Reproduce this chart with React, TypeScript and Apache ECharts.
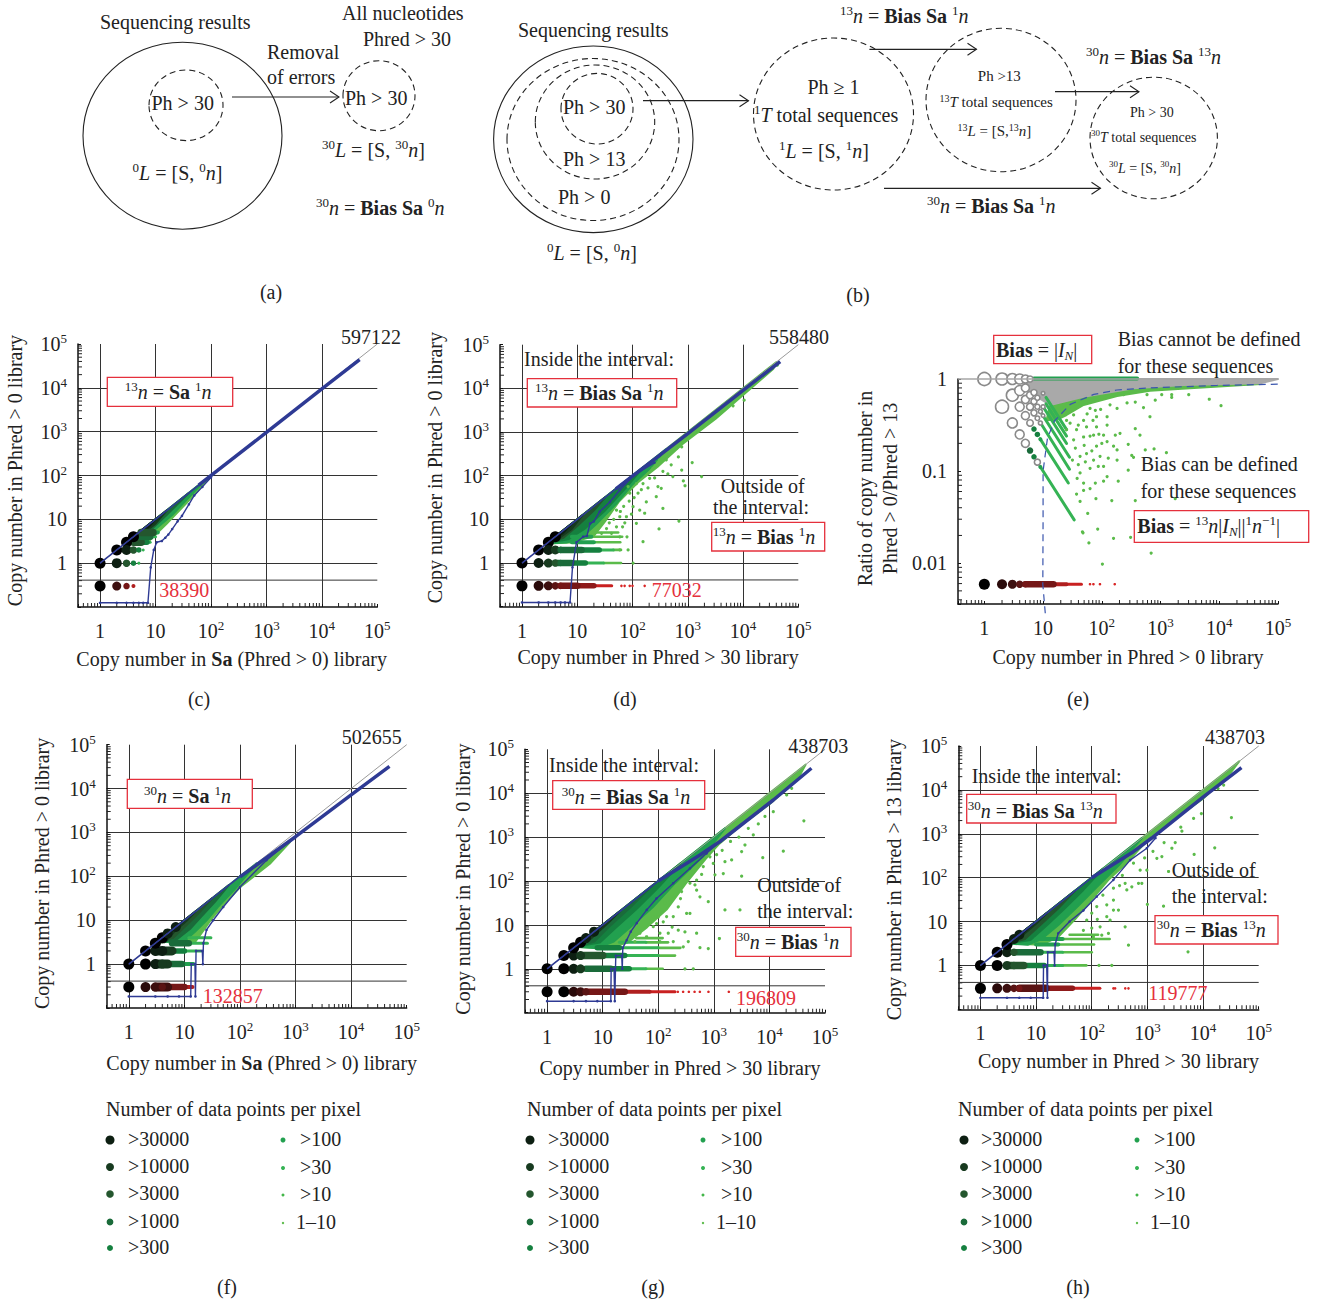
import React, { useEffect, useRef } from "react";
import * as echarts from "echarts";

const F = '"Liberation Serif", serif';
const INK = "#222";
const RED_TXT = "#e5303c";
const BLUE = "#2e3a94";
const GREEN = ["#000000", "#0d1f12", "#173a1f", "#24562e", "#1a6b3a", "#15803f", "#22a04f", "#35b354", "#5bbb4a"];
const RED = ["#0a0505", "#2a0a0a", "#3d0f0f", "#5a1414", "#751717", "#8f1a1a", "#b01f1f", "#c92020", "#d92626"];
const SIZE = [11, 10, 9, 7.5, 6.5, 5.5, 4, 3, 2.6];
const LEGEND_LEFT = [">30000", ">10000", ">3000", ">1000", ">300"];
const LEGEND_RIGHT = [">100", ">30", ">10", "1–10"];
const LEGEND_SWATCH = ["#0d1f12", "#173a1f", "#24562e", "#1a6b3a", "#15803f", "#22a04f", "#35b354", "#43b649", "#5bbb4a"];
const LEGEND_R = [4.5, 4, 3.8, 3.4, 3, 2.5, 2, 1.5, 1.2];
const MINOR = [2, 3, 4, 5, 6, 7, 8, 9];

// wedge outlines: [density class, [log10 x, log10 y] ...]
const c_wedges: any[] = [
  [8, [[0.48, 0.48], [2.05, 2.05], [1.55, 1.36], [1.2, 0.9], [0.9, 0.53], [0.6, 0.47]]],
  [6, [[0.48, 0.48], [1.9, 1.9], [1.3, 1.1], [1, 0.78], [0.75, 0.6], [0.55, 0.47]]],
  [4, [[0.48, 0.48], [1.6, 1.6], [1.2, 1.1], [0.95, 0.8], [0.7, 0.58]]],
  [2, [[0.48, 0.48], [1.2, 1.2], [1, 0.9], [0.8, 0.7], [0.6, 0.52]]],
  [1, [[0.48, 0.48], [1, 1], [0.8, 0.72], [0.6, 0.52]]],
];
const d_wedges: any[] = [
  [8, [[0.45, 0.45], [4.6, 4.6], [4.55, 4.45], [3.5, 3.3], [2.9, 2.72], [2.45, 2.2], [2.1, 1.85], [1.75, 1.4], [1.5, 0.95], [1.3, 0.62], [0.9, 0.47]]],
  [6, [[0.45, 0.45], [2.6, 2.6], [2.3, 2.15], [2, 1.8], [1.7, 1.35], [1.35, 0.9], [1.05, 0.55], [0.8, 0.47]]],
  [5, [[0.45, 0.45], [2.2, 2.2], [1.9, 1.75], [1.5, 1.2], [1.15, 0.8], [0.85, 0.55]]],
  [3, [[0.45, 0.45], [1.5, 1.5], [1.3, 1.2], [1, 0.85], [0.75, 0.58]]],
  [2, [[0.45, 0.45], [1.1, 1.1], [0.9, 0.78], [0.65, 0.55]]],
  [1, [[0.45, 0.45], [0.9, 0.9], [0.75, 0.7], [0.55, 0.5]]],
];
const f_wedges: any[] = [
  [8, [[0.5, 0.5], [2.4, 2.35], [2.9, 2.8], [2.9, 2.78], [2.55, 2.3], [2, 1.75], [1.7, 1.35], [1.5, 1.05], [1.35, 0.78], [1.2, 0.52]]],
  [6, [[0.5, 0.5], [2.3, 2.3], [1.9, 1.7], [1.6, 1.3], [1.4, 1], [1.2, 0.75], [1, 0.52]]],
  [4, [[0.5, 0.5], [1.8, 1.8], [1.55, 1.42], [1.3, 1.08], [1.1, 0.8], [0.85, 0.55]]],
  [3, [[0.5, 0.5], [1.5, 1.5], [1.25, 1.15], [1.05, 0.9], [0.8, 0.6]]],
  [2, [[0.5, 0.5], [1.2, 1.2], [1.05, 1], [0.85, 0.78], [0.65, 0.5]]],
  [1, [[0.5, 0.5], [1, 1], [0.85, 0.85], [0.65, 0.6]]],
];
const g_wedges: any[] = [
  [8, [[0.5, 0.5], [4.65, 4.65], [4.5, 4.3], [4, 3.75], [3.5, 3.28], [3.1, 2.85], [2.85, 2.5], [2.5, 1.95], [2.15, 1.35], [1.8, 0.95], [1.45, 0.6], [1.1, 0.47]]],
  [6, [[0.5, 0.5], [3.2, 3.2], [2.8, 2.55], [2.3, 1.95], [1.9, 1.4], [1.5, 0.95], [1.2, 0.62], [0.9, 0.47]]],
  [5, [[0.5, 0.5], [2.4, 2.4], [2, 1.85], [1.6, 1.35], [1.25, 0.95], [0.95, 0.6]]],
  [4, [[0.5, 0.5], [1.9, 1.9], [1.5, 1.4], [1.15, 1], [0.85, 0.62]]],
  [2, [[0.5, 0.5], [1.3, 1.3], [1.1, 1.05], [0.8, 0.7], [0.65, 0.55]]],
  [1, [[0.5, 0.5], [1, 1], [0.8, 0.78], [0.6, 0.52]]],
];
const h_wedges: any[] = [
  [8, [[0.5, 0.5], [4.65, 4.65], [4.5, 4.4], [4, 3.8], [3.5, 3.35], [3, 2.85], [2.6, 2.3], [2.3, 1.95], [2, 1.5], [1.7, 1.05], [1.4, 0.65], [1.1, 0.47]]],
  [6, [[0.5, 0.5], [2.9, 2.9], [2.5, 2.3], [2.1, 1.8], [1.75, 1.35], [1.4, 0.92], [1.1, 0.6], [0.85, 0.47]]],
  [5, [[0.5, 0.5], [2.2, 2.2], [1.85, 1.72], [1.5, 1.28], [1.2, 0.92], [0.9, 0.58]]],
  [3, [[0.5, 0.5], [1.7, 1.7], [1.4, 1.3], [1.1, 0.95], [0.8, 0.6]]],
  [2, [[0.5, 0.5], [1.2, 1.2], [1, 0.95], [0.75, 0.68], [0.6, 0.52]]],
  [1, [[0.5, 0.5], [0.95, 0.95], [0.75, 0.72], [0.55, 0.5]]],
];
const e_wedges: any[] = [
  [8, [[1.12, -0.282], [1.69, -0.192], [2.54, -0.101], [3.39, -0.065], [4.7, -0.029], [4.7, -0.054], [3.5, -0.101], [2.82, -0.127], [2.26, -0.185], [1.69, -0.282], [1.4, -0.391], [1.23, -0.445], [1.06, -0.445]]],
  [99, [[0.72, 0], [5, 0], [4.7, -0.047], [3.39, -0.065], [2.54, -0.101], [1.69, -0.192], [1.12, -0.282], [0.89, -0.192], [0.66, -0.083]]],
];

// rows: [y, x from, x to, class] (class + 10 = red palette)
const c_rows: number[][] = [[3, 4, 8, 7], [3, 4, 7, 5], [3, 4, 5.5, 3], [4, 5, 10, 7], [4, 5, 8, 4], [5, 5.5, 11, 6], [5, 5.5, 9, 3]];
const d_rows: number[][] = [
  [1, 30, 62, 8], [1, 14, 30, 7], [1, 8, 14, 5], [1, 4, 8, 4],
  [2, 45, 62, 8], [2, 25, 45, 7], [2, 12, 25, 5], [2, 5, 12, 4],
  [3, 20, 60, 8], [3, 8, 20, 6], [4, 18, 65, 8], [4, 8, 18, 6], [5, 20, 55, 8],
  [0.3, 20, 42, 17], [0.3, 10, 20, 15], [0.3, 5, 10, 14],
];
const f_rows: number[][] = [
  [1, 9, 14.5, 6], [1, 5, 9, 4], [1, 3, 5, 2],
  [2, 10, 20, 7], [2, 6, 10, 5], [2, 3, 6, 2],
  [3, 12, 26, 7], [3, 6, 12, 4], [4, 12, 30, 7],
  [0.3, 10, 14, 16], [0.3, 5, 10, 14], [0.3, 3, 5, 12],
];
const g_rows: number[][] = [
  [1, 60, 120, 8], [1, 30, 60, 7], [1, 14, 30, 5], [1, 5, 14, 4],
  [2, 100, 200, 8], [2, 25, 100, 7], [2, 10, 25, 5], [2, 4, 10, 3],
  [3, 100, 250, 8], [3, 20, 100, 7], [3, 8, 20, 5],
  [4, 60, 150, 8], [4, 20, 60, 7], [5, 40, 120, 8],
  [0.3, 70, 200, 17], [0.3, 25, 70, 16], [0.3, 5, 25, 14],
];
const h_rows: number[][] = [
  [1, 30, 80, 8], [1, 14, 30, 7], [1, 6, 14, 5], [1, 3, 6, 3],
  [2, 30, 100, 8], [2, 12, 30, 7], [2, 4, 12, 4],
  [3, 25, 110, 8], [3, 10, 25, 6], [4, 30, 210, 8], [4, 10, 30, 6], [5, 40, 130, 8],
  [0.3, 45, 140, 17], [0.3, 15, 45, 15], [0.3, 5, 15, 13],
];
const e_rows: number[][] = [
  [1.015, 7, 400, 6],
  [0.0059, 25, 45, 17], [0.0059, 15, 25, 16], [0.0059, 5, 15, 14],
];
// rays in panel e: [log x0, log y0, log x1, log y1]
const e_rays: number[][] = [
  [0.95, -0.95, 1.53, -1.53], [0.95, -0.65, 1.43, -1.13], [0.98, -0.5, 1.45, -0.98],
  [0.98, -0.38, 1.45, -0.85], [1, -0.3, 1.4, -0.7], [1.05, -0.27, 1.4, -0.62], [1.05, -0.2, 1.4, -0.55],
];

// single large dots: [x, y, class]
const c_dots: number[][] = [
  [1, 1, 0], [2, 2, 0], [3, 3, 0], [4, 4, 0], [2, 1, 1], [3, 1, 3], [4, 1, 5], [5, 1, 7],
  [3, 2, 1], [4, 2, 3], [5, 2, 5], [6, 2, 7], [1, 0.3, 0], [2, 0.3, 12], [3, 0.3, 14], [4, 0.3, 16],
];
const d_dots: number[][] = [
  [1, 1, 0], [2, 2, 0], [3, 3, 0], [4, 4, 0], [2, 1, 1], [3, 1, 2], [4, 1, 3], [5, 1, 4],
  [3, 2, 1], [4, 2, 2], [5, 2, 4], [1, 0.3, 0], [2, 0.3, 11], [3, 0.3, 12], [4, 0.3, 13], [5, 0.3, 14],
  [63, 0.3, 18], [72, 0.3, 18], [89, 0.3, 18], [100, 0.3, 18], [166, 0.3, 18],
];
const f_dots: number[][] = [
  [1, 1, 0], [2, 1, 0], [3, 1, 1], [4, 1, 2], [2, 2, 0], [3, 2, 1], [4, 2, 1], [3, 3, 0], [4, 4, 0], [5, 5, 1], [7, 7, 1],
  [1, 0.3, 0], [2, 0.3, 11], [3, 0.3, 12], [4, 0.3, 13],
];
const g_dots: number[][] = [
  [1, 1, 0], [2, 1, 0], [3, 1, 1], [4, 1, 2], [2, 2, 0], [3, 2, 1], [4, 2, 2], [3, 3, 0], [4, 4, 0], [5, 5, 1], [7, 7, 1],
  [1, 0.3, 0], [2, 0.3, 0], [3, 0.3, 11], [4, 0.3, 12], [5, 0.3, 13],
  [225, 0.3, 18], [280, 0.3, 18], [355, 0.3, 18], [450, 0.3, 18], [560, 0.3, 18], [800, 0.3, 18], [1860, 0.3, 18],
];
const h_dots: number[][] = [
  [1, 1, 0], [2, 1, 0], [3, 1, 2], [4, 1, 3], [2, 2, 0], [3, 2, 1], [4, 2, 3], [3, 3, 0], [4, 4, 1], [5, 5, 1],
  [1, 0.3, 0], [2, 0.3, 11], [3, 0.3, 12], [4, 0.3, 13], [5, 0.3, 14],
  [245, 0.3, 18], [263, 0.3, 18], [400, 0.3, 18], [457, 0.3, 18],
];
const e_dots: number[][] = [
  [1, 0.0059, 0], [2, 0.0059, 11], [3, 0.0059, 12], [4, 0.0059, 13], [5, 0.0059, 14],
  [63, 0.0059, 18], [72, 0.0059, 18], [93, 0.0059, 18], [166, 0.0059, 18],
  [6, 0.167, 4], [7, 0.143, 5], [7, 0.286, 5], [8, 0.25, 5], [9, 0.222, 6], [9, 0.111, 6],
];
// white rings in panel e: [x, y, size]
const e_rings: number[][] = [
  [1, 1, 13], [2, 1, 12], [3, 1, 11], [4, 1, 10], [5, 1, 8], [6, 1, 6], [3, 0.667, 12], [2, 0.5, 13], [4, 0.75, 10], [5, 0.8, 8],
  [4, 0.5, 9], [5, 0.6, 8], [6, 0.667, 7], [7, 0.714, 6], [6, 0.5, 7], [7, 0.571, 6], [8, 0.625, 5], [3, 0.333, 10], [5, 0.4, 8],
  [6, 0.333, 6.5], [7, 0.429, 6], [8, 0.5, 5], [4, 0.25, 9], [5, 0.2, 8], [8, 0.125, 6], [9, 0.444, 4], [9, 0.333, 4], [10, 0.5, 4],
  [10, 0.4, 3.5], [10, 0.7, 3.5], [8, 0.375, 4.5],
];

// isolated points, as [log10 x, log10 y]
const d_scatter: number[][] = [
  [4.62, 4.53], [4.02, 3.73], [3.82, 3.6], [3.49, 3.4], [3.19, 3.01], [3, 2.89], [2.89, 2.66], [2.83, 2.43], [3.08, 2.3], [2.89, 2.13], [3.25, 1.98], [2.92, 1.88],
  [2.95, 1.77], [2.73, 1.98], [2.64, 2.04], [2.37, 2.17], [2.46, 1.75], [2.52, 1.71], [2.43, 1.52], [2.55, 1.25], [2.84, 0.96], [2.48, 0.78], [2.19, 0.49], [1.92, 0.3],
  [2.01, 0], [1.77, 0.3], [2.22, 1.14], [2.25, 1.4], [2.13, 1.21], [2.07, 0.91], [1.9, 0.6], [1.82, 0.83], [2.01, 1.29], [2.1, 1.6], [2.19, 1.82], [2.31, 1.94], [2.49, 2.36],
  [2.61, 2.36], [2.8, 2.63], [1.77, 0.6], [1.71, 0.83], [1.62, 0.68], [1.77, 1.06], [1.89, 1.06], [1.71, 1.21], [1.95, 1.6], [1.92, 1.75], [2.07, 1.82], [1.53, 0.79], [1.44, 0.68],
  [1.84, 1.3], [1.94, 1.42], [2.03, 1.5], [1.66, 1], [1.58, 0.92], [1.86, 0.92], [1.98, 1.12], [2.16, 1.68], [2.28, 1.72], [2.4, 1.95], [2.55, 2.1], [2.7, 2.25], [1.78, 1.18],
];
const g_scatter: number[][] = [
  [4.62, 3.37], [4.25, 2.68], [3.88, 2.53], [3.5, 2.11], [3.2, 1.34], [3.47, 1.34], [3.1, 0.69], [2.9, 0.46], [2.75, 0.48], [2.63, 0], [2.48, 0], [2.9, 1.53], [2.75, 1.64], [2.66, 1.91],
  [3.02, 2.14], [3.17, 2.17], [3.2, 2.44], [3.32, 2.48], [3.5, 2.67], [3.56, 2.82], [3.71, 3.05], [3.92, 3.47], [4.07, 3.58], [4.4, 4.11], [4.31, 3.96], [2.51, 1.26], [2.57, 1.26],
  [2.36, 0.88], [2.48, 0.84], [2.54, 0.62], [2.27, 0.62], [2.69, 0.81], [2.45, 0.5], [2.18, 0.81], [2.09, 1.07], [2.03, 0.81], [1.91, 0.96], [2.03, 0.62], [1.79, 0.73], [2.36, 1.41],
  [2.27, 1.19], [2.21, 1.53], [2.42, 1.76], [2.57, 1.95], [2.69, 2.02], [2.81, 2.33], [2.99, 2.4], [2.69, 1.79], [2.15, 1.19], [1.97, 1.03], [2.06, 1.34], [1.91, 1.19], [1.67, 0.81], [1.58, 0.62],
  [2.4, 1.6], [2.3, 1.68], [2.62, 2.2], [2.78, 2.15], [2.93, 2.55], [3.05, 2.6], [3.15, 2.7], [3.3, 2.9], [3.45, 3], [3.62, 3.2], [3.8, 3.3], [2.12, 1.5], [2.0, 1.18], [2.25, 0.95],
];
const h_scatter: number[][] = [
  [4.51, 3.37], [4.21, 2.68], [3.84, 2.53], [3.73, 0.31], [3.29, 1.35], [3, 1.39], [2.99, 2.17], [2.9, 1.87], [2.84, 1.87], [2.72, 1.79], [2.6, 1.87], [2.5, 1.82], [2.39, 1.76], [3.17, 2.44],
  [3.26, 2.48], [3.44, 2.67], [3.5, 2.8], [3.62, 3.06], [3.83, 3.35], [3.97, 3.46], [4.37, 4.11], [4.27, 4.03], [2.6, 0.88], [2.48, 1.26], [2.39, 1.26], [2.33, 1.03], [2.27, 1.11], [2.15, 0.88],
  [2.18, 0.69], [2.3, 0.73], [2.66, 0.46], [2.03, 0.65], [2.09, 1.34], [1.91, 1.03], [2, 1.19], [2.27, 1.38], [2.87, 2.17], [2.39, 1.49], [2.63, 1.72], [2.75, 2.33], [3.38, 2.14], [2.13, 0],
  [2.36, 0], [2.95, 2.45], [3.1, 2.6], [3.3, 2.8], [3.6, 3.15], [2.55, 2.05], [2.2, 1.6], [2.1, 1.05], [2.0, 0.85], [1.85, 0.8],
];
const e_scatter: number[][] = [
  [4.03, -0.29], [3.83, -0.22], [3.48, -0.17], [3.19, -0.17], [3.19, -0.2], [2.82, -0.41], [2.91, -0.23], [2.71, -0.31], [2.57, -0.54], [2.65, -0.61], [2.45, -0.71], [2.74, -0.77], [2.89, -0.76],
  [3.1, -0.8], [2.51, -0.83], [2.54, -0.85], [2.45, -0.99], [2.26, -0.88], [2.2, -0.73], [2.31, -0.59], [2.23, -0.61], [2.09, -0.41], [1.91, -0.41], [1.8, -0.32], [2.14, -0.28], [2.26, -0.32],
  [2.43, -0.26], [2.57, -0.25], [2.37, -0.17], [2.77, -0.17], [3.02, -0.17], [1.76, -1.46], [1.93, -1.63], [1.67, -1.66], [1.68, -1.67], [1.78, -1.78], [2.01, -2.01], [2.2, -1.73], [2.49, -1.72],
  [2.84, -1.89], [2.57, -1.32], [2.17, -1.32], [1.9, -1.3], [1.63, -1.33], [1.57, -1.25], [1.69, -1.21], [1.8, -1.19], [2.28, -1.11], [2.03, -1.11], [1.89, -1.13], [1.69, -1.13], [2.09, -1.06],
  [1.94, -0.95], [1.8, -0.97], [1.63, -1.02], [2.11, -0.86], [1.97, -0.84], [1.91, -0.73], [1.74, -0.81], [1.63, -0.84], [2.03, -0.61], [1.86, -0.61], [1.69, -0.63], [1.52, -0.66], [1.57, -0.55],
  [1.74, -0.52], [1.91, -0.52], [2.09, -0.5], [1.4, -0.55], [1.46, -0.48], [1.69, -0.45], [1.52, -0.39], [1.89, -0.34], [1.4, -0.45], [2.09, -0.68], [1.86, -0.88], [2.26, -0.77], [2.03, -0.95], [3.25, -1.3],
  [1.55, -0.75], [1.6, -0.93], [1.7, -0.72], [1.8, -0.62], [1.95, -0.6], [1.6, -0.5], [1.75, -0.38], [1.98, -0.33], [1.85, -0.45], [1.5, -0.88], [1.58, -1.08], [1.72, -0.9], [1.83, -0.78], [2, -0.7],
];

// blue boundary lines
const c_upper = [[1, 1], [80, 80]];
const c_thick = [[60, 60], [1000, 960], [10000, 9500], [48000, 44000]];
const c_lower = [[1, 0.125], [2, 0.125], [3, 0.125], [4, 0.125], [5, 0.125], [6, 0.125], [7.3, 0.125], [8.2, 0.8], [9.3, 2], [10.5, 3], [13, 3.2], [15, 3.8], [17, 4.5], [20, 6], [25, 9], [30, 12], [40, 22], [50, 35], [70, 55], [100, 90]];
const d_upper = [[1, 1], [90, 90]];
const d_thick = [[50, 50], [1000, 920], [10000, 9000], [47000, 41000]];
const d_lower = [[1, 0.125], [2, 0.125], [3, 0.125], [4, 0.125], [5, 0.125], [6, 0.125], [7.4, 0.125], [8.2, 0.8], [9.7, 3], [12.8, 4], [15, 4.2], [17, 8], [20, 9], [25.5, 15], [39, 25], [59, 47], [103, 100], [250, 200]];
const f_upper = [[1, 1], [100, 100]];
const f_thick = [[100, 97], [1000, 800], [10000, 7200], [49000, 32000]];
const f_lower = [[1, 0.183], [3, 0.183], [5, 0.183], [8, 0.183], [13, 0.183], [13.3, 1], [15.5, 1], [15.8, 0.183], [16.2, 2], [21, 2], [21.5, 1], [22, 3], [25, 6], [33, 10], [50, 20], [100, 57], [300, 234], [800, 650]];
const g_upper = [[1, 1], [100, 100]];
const g_thick = [[100, 100], [562, 390], [1290, 794], [11750, 7000], [57000, 37000]];
const g_lower = [[1, 0.183], [3, 0.183], [5, 0.183], [8, 0.183], [14, 0.183], [14.2, 1], [16, 1], [16.5, 0.183], [17.2, 2], [22, 2], [22.5, 1], [23, 3], [27, 4.5], [32, 7], [41, 11], [62, 22], [93, 40], [186, 89], [372, 195], [741, 427], [1290, 794]];
const h_upper = [[1, 1], [100, 100]];
const h_thick = [[100, 100], [560, 390], [1200, 800], [10000, 6800], [49000, 32000]];
const h_lower = [[1, 0.183], [3, 0.183], [5, 0.183], [8, 0.183], [13.4, 0.183], [13.6, 1], [15.5, 1], [16, 0.183], [16.2, 2], [21, 2], [21.5, 1], [22, 3], [25, 5.4], [40, 10], [71, 18], [123, 37], [245, 89], [490, 251], [977, 468], [1400, 800]];
const e_dash = [[10.9, 0.00286], [9.9, 0.0059], [10, 0.03], [10, 0.1], [11.9, 0.23], [15.6, 0.35], [29, 0.53], [73, 0.68], [180, 0.76], [667, 0.8], [9000, 0.85], [160000, 0.885]];

const rich = (size: number) => ({
  s: { fontFamily: F, fontSize: Math.round(size * 0.65), verticalAlign: "top", lineHeight: Math.round(size * 0.7), fill: INK, color: INK },
  u: { fontFamily: F, fontStyle: "italic", fontSize: Math.round(size * 0.65), verticalAlign: "bottom", lineHeight: Math.round(size * 0.7), fill: INK, color: INK },
  i: { fontFamily: F, fontStyle: "italic", fontSize: size, lineHeight: Math.round(size * 1.2), fill: INK, color: INK },
  b: { fontFamily: F, fontWeight: "bold", fontSize: size, lineHeight: Math.round(size * 1.2), fill: INK, color: INK },
  n: { fontFamily: F, fontSize: size, lineHeight: Math.round(size * 1.2), fill: INK, color: INK },
});

const T = (x: number, y: number, text: string, size = 20, color = INK, align = "left") => ({
  type: "text", x, y, z: 100, silent: true,
  style: { text, fontSize: size, fontFamily: F, fill: color, align, textAlign: align, verticalAlign: "middle", textVerticalAlign: "middle", rich: rich(size) },
});
const OV = (cx: number, cy: number, rx: number, ry: number, dash = true) => ({
  type: "ellipse", z: 99, silent: true, shape: { cx, cy, rx, ry },
  style: { fill: "none", stroke: "#222", lineWidth: 1.1, lineDash: dash ? [6, 4] : undefined },
});
const ARROW = (x0: number, x1: number, y: number) => [
  { type: "line", z: 99, silent: true, shape: { x1: x0, y1: y, x2: x1, y2: y }, style: { stroke: "#222", lineWidth: 1.2 } },
  { type: "polyline", z: 99, silent: true, shape: { points: [[x1 - 9, y - 6], [x1, y], [x1 - 9, y + 6]] }, style: { stroke: "#222", lineWidth: 1.1, fill: "none" } },
];
const BOX = (x0: number, y0: number, x1: number, y1: number) => ({
  type: "rect", z: 98, silent: true, shape: { x: x0, y: y0, width: x1 - x0, height: y1 - y0 }, style: { fill: "#fff", stroke: RED_TXT, lineWidth: 1.3 },
});
const LEGEND = (title: number, dotL: number, txtL: number, dotR: number, txtR: number, txtR4: number) => {
  const out: any[] = [T(title, 1109, "Number of data points per pixel")];
  const yL = [1140, 1167, 1194, 1222, 1248];
  const yR = [1140, 1168, 1195, 1223];
  LEGEND_LEFT.forEach((s, i) => {
    out.push({ type: "circle", z: 100, silent: true, shape: { cx: dotL, cy: yL[i], r: LEGEND_R[i] }, style: { fill: LEGEND_SWATCH[i] } });
    out.push(T(txtL, yL[i] - 1, s));
  });
  LEGEND_RIGHT.forEach((s, i) => {
    out.push({ type: "circle", z: 100, silent: true, shape: { cx: dotR, cy: yR[i], r: LEGEND_R[i + 5] }, style: { fill: LEGEND_SWATCH[i + 5] } });
    out.push(T(i === 3 ? txtR4 : txtR, yR[i] - 1, s));
  });
  return out;
};

const powerLabel = (v: number) => {
  const l = Math.log10(v);
  const e = Math.round(l);
  if (Math.abs(l - e) > 0.01 || e < 0) return "";
  if (e === 0) return "{n|1}";
  if (e === 1) return "{n|10}";
  return `{n|10}{s|${e}}`;
};
const ratioLabel = (v: number) => {
  const l = Math.log10(v);
  const e = Math.round(l);
  if (Math.abs(l - e) > 0.01) return "";
  return e === 0 ? "{n|1}" : e === -1 ? "{n|0.1}" : e === -2 ? "{n|0.01}" : "";
};

const col = (c: number) => (c >= 10 ? RED[c - 10] : GREEN[c]);
const dec = (p: number[]) => [10 ** p[0], 10 ** p[1]];

function panelSeries(i: number, p: any) {
  const base = { xAxisIndex: i, yAxisIndex: i, silent: true, clip: false };
  const lineS = (data: number[][], color: string, width: number, extra: any = {}) => ({
    ...base, type: "line", data, showSymbol: false, symbol: "none", lineStyle: { color, width }, itemStyle: { color }, ...extra,
  });
  const out: any[] = [];
  if (p.grid) out.push(lineS([[p.xmin, 0.41], [1e5, 0.41]], "#333", 1));
  if (p.grid) out.push(lineS([[1, 1], [1e5, 1e5]], "#9a9a9a", 1));
  else out.push(lineS([[p.xmin, 1], [1e5, 1]], "#a6a6a6", 1.5));
  out.push({
    ...base, type: "custom", data: p.wedges.map((_: any, k: number) => [1, 1, k]), encode: { x: 0, y: 1 },
    renderItem: (_: any, api: any) => {
      const [cls, pts] = p.wedges[api.value(2)];
      const color = cls === 99 ? "#a9a9a9" : GREEN[cls];
      return { type: "polygon", shape: { points: pts.map((q: number[]) => api.coord(dec(q))) }, style: { fill: color, stroke: color, lineWidth: 2, lineJoin: "round" } };
    },
  });
  const segs: number[][] = p.rows.map((r: number[]) => [r[1], r[0], r[2], r[0], r[3]]);
  if (p.rays) p.rays.forEach((r: number[]) => segs.push([10 ** r[0], 10 ** r[1], 10 ** r[2], 10 ** r[3], 7]));
  out.push({
    ...base, type: "custom", data: segs.map((s, k) => [s[0], s[1], k]), encode: { x: 0, y: 1 },
    renderItem: (_: any, api: any) => {
      const s = segs[api.value(2)];
      const a = api.coord([s[0], s[1]]);
      const b = api.coord([s[2], s[3]]);
      return { type: "line", shape: { x1: a[0], y1: a[1], x2: b[0], y2: b[1] }, style: { stroke: col(s[4]), lineWidth: SIZE[s[4] % 10], lineCap: "round" } };
    },
  });
  if (p.scatter) {
    out.push({ ...base, type: "scatter", data: p.scatter.map(dec), symbolSize: 3.2, itemStyle: { color: "#5bbb4a", opacity: 1 } });
  }
  out.push({
    ...base, type: "scatter", data: p.dots, encode: { x: 0, y: 1 }, symbolSize: (v: number[]) => SIZE[v[2] % 10],
    itemStyle: { opacity: 1, color: (q: any) => col(q.data[2]) },
  });
  if (p.rings) {
    out.push({
      ...base, type: "scatter", data: p.rings, encode: { x: 0, y: 1 }, symbolSize: (v: number[]) => v[2],
      itemStyle: { opacity: 1, color: "#fff", borderColor: "#8a8a8a", borderWidth: 1.6 },
    });
  }
  if (p.upper) out.push(lineS(p.upper, BLUE, 1.6));
  if (p.lower) out.push(lineS(p.lower, BLUE, 1.4, { showSymbol: true, symbol: "circle", symbolSize: 2.6, showAllSymbol: true }));
  if (p.thick) out.push(lineS(p.thick, BLUE, 3.5));
  if (p.dash) out.push(lineS(p.dash, "#3a55ad", 1.2, { lineStyle: { color: "#3a55ad", width: 1.2, type: [7, 5] } }));
  // minor log ticks
  const mx: number[][] = [];
  const my: number[][] = [];
  for (let k = p.xExpMin; k <= 4; k++) MINOR.forEach((m) => { const v = m * 10 ** k; if (v > p.xmin) mx.push([v, p.ymin]); });
  for (let k = p.yExpMin; k <= p.yExpMax; k++) MINOR.forEach((m) => { const v = m * 10 ** k; if (v > p.ymin) my.push([p.xmin, v]); });
  out.push({ ...base, type: "scatter", data: mx, symbol: "rect", symbolSize: [1, 4], symbolOffset: [0, -2], itemStyle: { color: "#222", opacity: 1 } });
  out.push({ ...base, type: "scatter", data: my, symbol: "rect", symbolSize: [4, 1], symbolOffset: [2, 0], itemStyle: { color: "#222", opacity: 1 } });
  return out;
}

const panels: any[] = [
  { rect: [78, 344, 299.3, 263], xmin: 0.4, ymin: 0.1, xExpMin: -1, yExpMin: -1, yExpMax: 4, grid: true, wedges: c_wedges, rows: c_rows, dots: c_dots, upper: c_upper, thick: c_thick, lower: c_lower,
    xName: "Copy number in {b|Sa} (Phred > 0) library", yName: "Copy number in Phred > 0 library", xGap: 40, yGap: 51, xShift: 4, yShift: 5 },
  { rect: [500, 344.7, 298.3, 262], xmin: 0.4, ymin: 0.1, xExpMin: -1, yExpMin: -1, yExpMax: 4, grid: true, wedges: d_wedges, rows: d_rows, dots: d_dots, scatter: d_scatter, upper: d_upper, thick: d_thick, lower: d_lower,
    xName: "Copy number in Phred > 30 library", yName: "Copy number in Phred > 0 library", xGap: 40, yGap: 53, xShift: 9, yShift: 8 },
  { rect: [958, 379, 320, 225], xmin: 0.356, ymin: 0.0036, xExpMin: -1, yExpMin: -3, yExpMax: -1, grid: false, wedges: e_wedges, rows: e_rows, rays: e_rays, dots: e_dots, scatter: e_scatter, rings: e_rings, dash: e_dash,
    xName: "Copy number in Phred > 0 library", yName: "Ratio of copy number in\nPhred > 0/Phred > 13", xGap: 43, yGap: 56, xShift: 10, yShift: 3, ratio: true },
  { rect: [106.7, 744.7, 300, 263.3], xmin: 0.4, ymin: 0.1, xExpMin: -1, yExpMin: -1, yExpMax: 4, grid: true, wedges: f_wedges, rows: f_rows, dots: f_dots, upper: f_upper, thick: f_thick, lower: f_lower,
    xName: "Copy number in {b|Sa} (Phred > 0) library", yName: "Copy number in Phred > 0 library", xGap: 43, yGap: 52, xShift: 5, yShift: 3 },
  { rect: [525, 749.3, 300, 263.4], xmin: 0.4, ymin: 0.1, xExpMin: -1, yExpMin: -1, yExpMax: 4, grid: true, wedges: g_wedges, rows: g_rows, dots: g_dots, scatter: g_scatter, upper: g_upper, thick: g_thick, lower: g_lower,
    xName: "Copy number in Phred > 30 library", yName: "Copy number in Phred > 0 library", xGap: 45, yGap: 50, xShift: 5, yShift: 2 },
  { rect: [958.3, 746, 300.4, 263.3], xmin: 0.4, ymin: 0.1, xExpMin: -1, yExpMin: -1, yExpMax: 4, grid: true, wedges: h_wedges, rows: h_rows, dots: h_dots, scatter: h_scatter, upper: h_upper, thick: h_thick, lower: h_lower,
    xName: "Copy number in Phred > 30 library", yName: "Copy number in Phred > 13 library", xGap: 42, yGap: 52, xShift: 10, yShift: -2 },
];

const graphics: any[] = [
  // (a)
  T(100, 22, "Sequencing results"), OV(182.5, 135.7, 99.5, 93.5, false), OV(186, 105.3, 37, 35.3), T(151.5, 103, "Ph > 30"),
  ...ARROW(232, 339, 97), T(267, 52, "Removal"), T(267, 77, "of errors"), T(342, 13, "All nucleotides"), T(363, 39, "Phred > 30"),
  OV(379, 95.7, 36, 35), T(345, 97.7, "Ph > 30"), T(322, 150, "{s|30}{i|L} = [{n|S}, {s|30}{i|n}]"), T(132.6, 173, "{s|0}{i|L} = [{n|S}, {s|0}{i|n}]"),
  T(316, 208, "{s|30}{i|n} = {b|Bias Sa} {s|0}{i|n}"), T(271, 292, "(a)", 20, INK, "center"),
  // (b)
  T(518, 30, "Sequencing results"), OV(593.3, 139.3, 99.7, 93.3, false), OV(593, 139.5, 86, 81), OV(595, 122, 59.7, 57), OV(597, 108.7, 36, 35.3),
  T(563, 107, "Ph > 30"), T(563, 159, "Ph > 13"), T(558, 197, "Ph > 0"), T(547, 253, "{s|0}{i|L} = [{n|S}, {s|0}{i|n}]"), ...ARROW(643, 748.5, 100.7),
  T(840, 16, "{s|13}{i|n} = {b|Bias Sa} {s|1}{i|n}"), ...ARROW(869.4, 976.5, 49.3), OV(833.5, 114, 80, 76), T(807.4, 86.7, "Ph ≥ 1"),
  T(754, 115, "{s|1}{i|T} total sequences"), T(779, 151, "{s|1}{i|L} = [{n|S}, {s|1}{i|n}]"),
  OV(1001, 100, 75, 71.7), T(977.8, 76, "Ph >13", 15), T(939.5, 102, "{s|13}{i|T} total sequences", 15), T(957.4, 131, "{s|13}{i|L} = [{n|S},{s|13}{i|n}]", 15),
  ...ARROW(1055, 1139, 91.7), T(1086, 56.5, "{s|30}{i|n} = {b|Bias Sa} {s|13}{i|n}"), OV(1153.7, 138, 63.7, 60.8),
  T(1130, 112.3, "Ph > 30", 14), T(1091, 137, "{s|30}{i|T} total sequences", 14), T(1109, 168, "{s|30}{i|L} = [{n|S}, {s|30}{i|n}]", 14),
  ...ARROW(884, 1100.5, 188.3), T(927, 205.5, "{s|30}{i|n} = {b|Bias Sa} {s|1}{i|n}"), T(858, 294.7, "(b)", 20, INK, "center"),
  // (c)
  T(341, 336.7, "597122"), BOX(107.3, 377.3, 232.7, 406.3), T(124.7, 391.5, "{s|13}{i|n} = {b|Sa} {s|1}{i|n}"), T(159.3, 590, "38390", 20, RED_TXT), T(199, 699, "(c)", 20, INK, "center"),
  // (d)
  T(769, 336.7, "558480"), T(524, 359.3, "Inside the interval:"), BOX(527.3, 378.7, 676.7, 407), T(535, 393, "{s|13}{i|n} = {b|Bias Sa} {s|1}{i|n}"),
  T(720.7, 486, "Outside of"), T(713, 506.7, "the interval:"), BOX(711.7, 522.3, 824.7, 551), T(712.7, 536.5, "{s|13}{i|n} = {b|Bias} {s|1}{i|n}"), T(651.7, 590, "77032", 20, RED_TXT), T(625, 699, "(d)", 20, INK, "center"),
  // (e)
  BOX(993.7, 335.3, 1091.7, 363.7), T(996, 349.5, "{b|Bias} = |{i|I}{u|N}|"), T(1117.7, 339.3, "Bias cannot be defined"), T(1117.7, 365.7, "for these sequences"),
  T(1140.7, 464.3, "Bias can be defined"), T(1140.7, 490.7, "for these sequences"), BOX(1134.3, 510.7, 1308.7, 542.3),
  T(1137.3, 526, "{b|Bias} = {s|13}{i|n}|{i|I}{u|N}||{s|1}{i|n}{s|−1}|"), T(1078, 699, "(e)", 20, INK, "center"),
  // (f)
  T(341.7, 737.3, "502655"), BOX(127.3, 779.3, 252.3, 808.3), T(144, 795.5, "{s|30}{i|n} = {b|Sa} {s|1}{i|n}"), T(202.7, 995.7, "132857", 20, RED_TXT), T(227, 1287, "(f)", 20, INK, "center"),
  // (g)
  T(788.3, 745.7, "438703"), T(549, 765, "Inside the interval:"), BOX(552.7, 780.7, 704.7, 809.3), T(561.7, 796.5, "{s|30}{i|n} = {b|Bias Sa} {s|1}{i|n}"),
  T(757.3, 885, "Outside of"), T(757.3, 910.7, "the interval:"), BOX(735.7, 927.3, 851, 956.3), T(736.7, 942, "{s|30}{i|n} = {b|Bias} {s|1}{i|n}"), T(736, 998.3, "196809", 20, RED_TXT), T(653, 1287, "(g)", 20, INK, "center"),
  // (h)
  T(1205, 737.3, "438703"), T(971.7, 776, "Inside the interval:"), BOX(966.7, 794.3, 1116, 823), T(967.7, 810.5, "{s|30}{i|n} = {b|Bias Sa} {s|13}{i|n}"),
  T(1171.7, 870, "Outside of"), T(1171.7, 896, "the interval:"), BOX(1155, 915.7, 1278, 944), T(1156.7, 930, "{s|30}{i|n} = {b|Bias} {s|13}{i|n}"), T(1148.3, 992.7, "119777", 20, RED_TXT), T(1078, 1287, "(h)", 20, INK, "center"),
  ...LEGEND(106, 110, 128, 283, 300, 296),
  ...LEGEND(527, 530, 548, 703, 721, 716),
  ...LEGEND(958, 964, 981, 1137, 1154, 1150),
];

function buildOption() {
  const grid = panels.map((p) => ({ left: p.rect[0], top: p.rect[1], width: p.rect[2], height: p.rect[3], containLabel: false }));
  const common = (p: any) => ({
    type: "log", logBase: 10, nameLocation: "middle", silent: true,
    axisLine: { show: true, onZero: false, lineStyle: { color: "#111", width: 1.5 } },
    axisTick: { show: true, inside: true, length: 3, lineStyle: { color: "#111" } },
    minorTick: { show: false },
    splitLine: { show: p.grid, showMinLine: false, showMaxLine: false, lineStyle: { color: "#333", width: 1 } },
  });
  const xAxis = panels.map((p, i) => ({
    ...common(p), gridIndex: i, min: p.xmin, max: 1e5, name: p.xName, nameGap: p.xGap,
    nameTextStyle: { fontFamily: F, fontSize: 20, color: INK, rich: rich(20), padding: [0, 0, 0, 2 * p.xShift] },
    axisLabel: { show: true, margin: 12, fontFamily: F, fontSize: 20, color: INK, formatter: powerLabel, rich: rich(20), showMinLabel: true, showMaxLabel: true, hideOverlap: false },
  }));
  const yAxis = panels.map((p, i) => ({
    ...common(p), gridIndex: i, min: p.ymin, max: p.ratio ? 1 : 1e5, name: p.yName, nameGap: p.yGap,
    nameTextStyle: { fontFamily: F, fontSize: 20, lineHeight: 25, color: INK, padding: [0, 0, 0, 2 * p.yShift] },
    axisLabel: { show: true, margin: 11, fontFamily: F, fontSize: 20, color: INK, formatter: p.ratio ? ratioLabel : powerLabel, rich: rich(20), showMinLabel: true, showMaxLabel: true, hideOverlap: false },
  }));
  const series = panels.flatMap((p, i) => panelSeries(i, p));
  return { animation: false, backgroundColor: "#fff", grid, xAxis, yAxis, series, graphic: { elements: graphics }, tooltip: { show: false } };
}

export default function App() {
  const ref = useRef<HTMLDivElement>(null);
  useEffect(() => {
    const chart = echarts.init(ref.current!, undefined, { renderer: "svg" });
    chart.setOption(buildOption() as any);
    return () => chart.dispose();
  }, []);
  return <div ref={ref} style={{ position: "absolute", left: 0, top: 0, width: 1326, height: 1301 }} />;
}
